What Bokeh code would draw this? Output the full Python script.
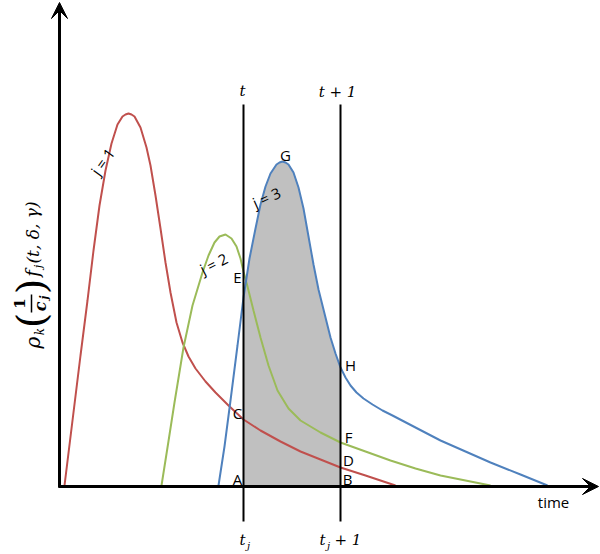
from bokeh.plotting import figure
from bokeh.models import Range1d, Arrow, VeeHead
from bokeh.core.properties import value
from bokeh.embed import file_html
from bokeh.resources import INLINE

# ---- data (page pixel coordinates, y grows downward) ----
red_x = [64, 72, 80, 87, 93, 99, 105, 111, 117, 122, 125, 128, 131, 134, 140, 146, 150, 155, 160, 165, 170, 176, 182, 188, 195, 205, 215, 228, 243, 260, 280, 300, 320, 340, 365, 395]
red_y = [485, 420, 355, 300, 250, 205, 170, 143, 124, 116, 114, 113, 114, 116, 127, 147, 165, 195, 228, 262, 292, 322, 342, 356, 368, 381, 392, 405, 419, 430, 441, 451, 459, 467, 475, 485]

green_x = [161, 167, 174, 183, 192, 202, 208, 214, 219, 225, 231, 236, 240, 243, 247, 253, 260, 268, 277, 288, 300, 320, 340, 365, 390, 415, 440, 465, 490]
green_y = [485, 447, 402, 347, 305, 272, 255, 242, 236, 234, 238, 246, 258, 271, 286, 310, 337, 365, 390, 408, 420, 432, 442, 451, 460, 468, 475, 480, 485]

blue_x = [218, 224, 230, 237, 243, 249, 255, 260, 265, 270, 276, 279, 282, 285, 288, 293, 298, 303, 308, 313, 318, 323, 330, 335, 340, 345, 350, 356, 363, 372, 382, 392, 415, 440, 465, 490, 520, 547]
blue_y = [485, 446, 400, 345, 297, 258, 228, 204, 186, 173, 164, 162, 161, 162, 164, 172, 187, 208, 236, 264, 289, 309, 337, 353, 367, 377, 385, 392, 398, 404, 410, 415, 427, 440, 451, 462, 474, 485]

t_j = 243
t_j1 = 340
axis_x0 = 59
axis_y0 = 486

point_labels = ["A", "B", "C", "D", "E", "F", "G", "H"]
curve_labels = ["j = 1", "j = 2", "j = 3"]
top_labels = ["t", "t + 1"]

# ---- layout (positions / styles) ----
pt_x = [237, 347, 237, 348, 237, 348, 285, 350]
pt_y = [478, 478, 412, 459, 276, 436, 154, 364]

cl_x = [102, 213, 266]
cl_y = [161, 263, 197]
cl_ang = [0.95, 0.47, 0.42]

W, H = 600, 554
p = figure(width=W, height=H, x_range=Range1d(0, W), y_range=Range1d(H, 0),
           output_backend="svg", toolbar_location=None, min_border=0)
p.axis.visible = False
p.grid.visible = False
p.outline_line_color = None
p.background_fill_color = "white"
p.border_fill_color = "white"

# shaded area under j=3 between t_j and t_j+1
sx = [x for x in blue_x if t_j <= x <= t_j1]
sy = [y for x, y in zip(blue_x, blue_y) if t_j <= x <= t_j1]
p.patch([t_j] + sx + [t_j1], [axis_y0] + sy + [axis_y0], fill_color="#C0C0C0", line_color=None)

# curves
p.line(red_x, red_y, line_color="#C0504D", line_width=2)
p.line(green_x, green_y, line_color="#9BBB59", line_width=2)
p.line(blue_x, blue_y, line_color="#4F81BD", line_width=2)

# vertical lines at t_j and t_j+1
p.segment(x0=[t_j, t_j1], y0=[104, 104], x1=[t_j, t_j1], y1=[521, 521], line_color="black", line_width=2)

# axes with arrows
p.add_layout(Arrow(end=VeeHead(size=16, fill_color="black", line_color="black"),
                   x_start=axis_x0, y_start=axis_y0 + 1, x_end=axis_x0, y_end=2,
                   line_width=3, line_color="black"))
p.add_layout(Arrow(end=VeeHead(size=16, fill_color="black", line_color="black"),
                   x_start=axis_x0 - 1, y_start=axis_y0, x_end=598, y_end=axis_y0,
                   line_width=3, line_color="black"))

# point labels
p.text(x=pt_x, y=pt_y, text=point_labels, text_font=value("Open Sans"), text_font_size="15px",
       text_align="center", text_baseline="middle", text_color="black")

# curve labels
p.text(x=cl_x, y=cl_y, text=curve_labels, angle=cl_ang, text_font=value("Open Sans"),
       text_font_size="15px", text_align="center", text_baseline="middle", text_color="black")

# time label
p.text(x=[553], y=[501], text=["time"], text_font=value("Open Sans"), text_font_size="15px",
       text_align="center", text_baseline="middle", text_color="black")

# top labels t, t+1
p.text(x=[242, 337], y=[90, 91], text=top_labels, text_font=value("DejaVu Serif"),
       text_font_style="italic", text_font_size="15px", text_align="center",
       text_baseline="middle", text_color="black")

# bottom labels t_j, t_j + 1
p.text(x=[242, 322], y=[539, 539], text=["t", "t"], text_font=value("DejaVu Serif"),
       text_font_style="italic", text_font_size="15px", text_align="center",
       text_baseline="middle", text_color="black")
p.text(x=[248, 328], y=[545, 545], text=["j", "j"], text_font=value("DejaVu Serif"),
       text_font_style="italic", text_font_size="10px", text_align="center",
       text_baseline="middle", text_color="black")
p.text(x=[334], y=[539], text=["+ 1"], text_font=value("DejaVu Serif"),
       text_font_style="italic", text_font_size="15px", text_align="left",
       text_baseline="middle", text_color="black")

# y-axis label, built from pieces (rotated 90 degrees)
ang = 1.5708
def ylab(x, y, s, size, style="italic", font="DejaVu Serif"):
    p.text(x=[x], y=[y], text=[s], angle=ang, text_font=value(font), text_font_style=style,
           text_font_size=size, text_align="center", text_baseline="middle", text_color="black")

ylab(32, 342, "ρ", "20px")
ylab(39, 331, "k", "12px")
ylab(30, 320, "(", "40px", style="normal")
ylab(19, 303, "1", "15px", style="bold")
p.segment(x0=[31], y0=[294], x1=[31], y1=[312], line_color="black", line_width=1.5)
ylab(40, 306, "c", "16px", style="bold italic")
ylab(44, 297, "j", "11px", style="bold italic")
ylab(30, 286, ")", "40px", style="normal")
ylab(32, 273, "f", "18px")
ylab(38, 266, "j", "11px")
ylab(32, 232, "(t, δ, γ)", "17px")

open("out.html", "w").write(file_html(p, INLINE))
